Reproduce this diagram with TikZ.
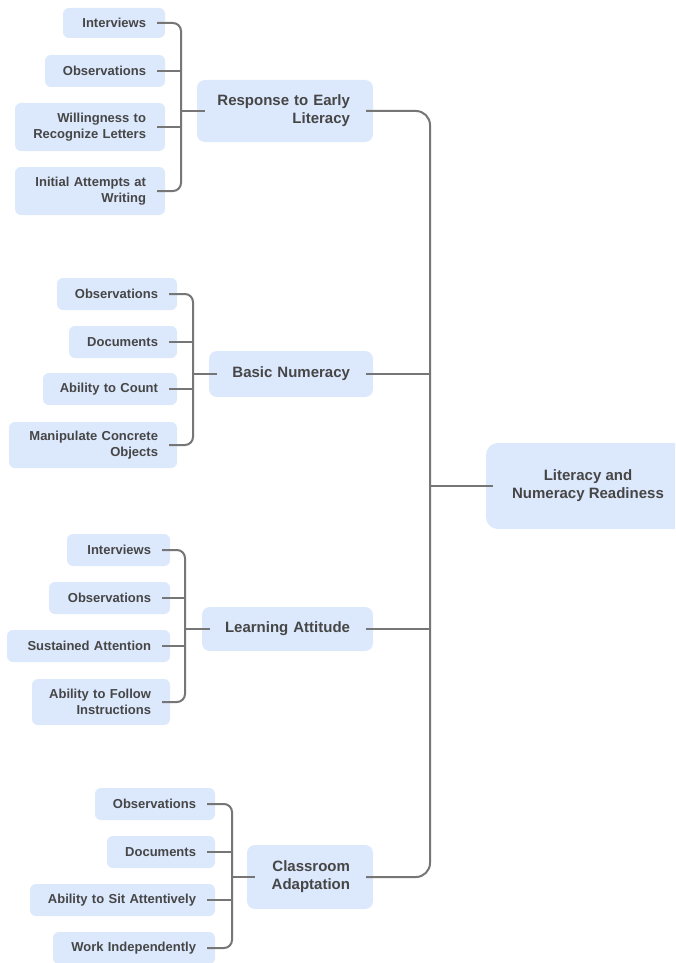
\documentclass[tikz,border=0pt]{standalone}
\usepackage{fontspec}
\setmainfont{Liberation Sans}
\definecolor{boxfill}{HTML}{DCE8FC}
\definecolor{txt}{HTML}{464646}
\definecolor{wire}{HTML}{767676}

\tikzset{
  leaf/.style={fill=boxfill, rounded corners=6, text=txt, align=right,
    font=\bfseries\fontsize{13}{16}\selectfont, inner xsep=19pt, inner ysep=0pt},
  branch/.style={fill=boxfill, rounded corners=8, text=txt, align=right,
    font=\bfseries\fontsize{15}{18}\selectfont, inner xsep=23pt, inner ysep=0pt},
  rootbox/.style={fill=boxfill, rounded corners=12, text=txt, align=center,
    font=\bfseries\fontsize{15}{18}\selectfont, inner xsep=0pt, inner ysep=0pt},
  conn/.style={draw=wire, line width=2pt},
}

% one line of text, flush right within the text width
\newcommand\fr[1]{\makebox[\linewidth][r]{#1}}

% box from (x1,y1) to (x2,y2) with side padding #7
\newcommand\leafbox[7]{%
  \pgfmathsetmacro\lbw{#4-#2-2*#7}%
  \pgfmathsetmacro\lbh{#5-#3}%
  \node[#1, text width=\lbw pt, minimum height=\lbh pt]
    at ({(#2+#4)/2},{(#3+#5)/2}) {#6};}

\begin{document}
\begin{tikzpicture}[x=1pt,y=-1pt]
\useasboundingbox (0,0) rectangle (675,963);
\clip (0,0) rectangle (675,963);
\fill[white] (0,0) rectangle (675,963);

% trunk and bracket columns
\coordinate (tr) at (430,0);
\coordinate (b1) at (181,0);
\coordinate (b2) at (193,0);
\coordinate (b3) at (185,0);
\coordinate (b4) at (232,0);

% root
\node[rootbox, minimum width=204pt, minimum height=86pt] (root) at (588,486)
  {Literacy and\\Numeracy Readiness};

% branches
\leafbox{branch, name=p1}{197}{80}{373}{142}{\fr{Response to Early}\\\fr{Literacy}}{23}
\leafbox{branch, name=p2}{209}{351}{373}{397}{\fr{Basic Numeracy}}{23}
\leafbox{branch, name=p3}{202}{607}{373}{651}{\fr{Learning Attitude}}{23}
\leafbox{branch, name=p4}{247}{845}{373}{909}{\fr{Classroom}\\\fr{Adaptation}}{23}

% group 1
\leafbox{leaf, name=a1}{63}{8}{165}{38}{\fr{Interviews}}{19}
\leafbox{leaf, name=a2}{45}{55}{165}{87}{\fr{Observations}}{19}
\leafbox{leaf, name=a3}{15}{103}{165}{151}{\fr{Willingness to}\\\fr{Recognize Letters}}{19}
\leafbox{leaf, name=a4}{15}{167}{165}{215}{\fr{Initial Attempts at}\\\fr{Writing}}{19}

% group 2
\leafbox{leaf, name=c1}{57}{278}{177}{310}{\fr{Observations}}{19}
\leafbox{leaf, name=c2}{69}{326}{177}{358}{\fr{Documents}}{19}
\leafbox{leaf, name=c3}{43}{373}{177}{405}{\fr{Ability to Count}}{19}
\leafbox{leaf, name=c4}{9}{422}{177}{468}{\fr{Manipulate Concrete}\\\fr{Objects}}{19}

% group 3
\leafbox{leaf, name=d1}{67}{534}{170}{566}{\fr{Interviews}}{19}
\leafbox{leaf, name=d2}{49}{582}{170}{614}{\fr{Observations}}{19}
\leafbox{leaf, name=d3}{7}{630}{170}{662}{\fr{Sustained Attention}}{19}
\leafbox{leaf, name=d4}{32}{679}{170}{725}{\fr{Ability to Follow}\\\fr{Instructions}}{19}

% group 4
\leafbox{leaf, name=e1}{95}{788}{215}{820}{\fr{Observations}}{19}
\leafbox{leaf, name=e2}{107}{836}{215}{868}{\fr{Documents}}{19}
\leafbox{leaf, name=e3}{30}{884}{215}{916}{\fr{Ability to Sit Attentively}}{19}
\leafbox{leaf, name=e4}{53}{932}{215}{964}{\fr{Work Independently}}{19}

% trunk
\draw[conn, rounded corners=14] ([xshift=-7pt]p1.east) -| (p4.east -| tr) -- ([xshift=-7pt]p4.east);
\draw[conn] ([xshift=-7pt]p2.east) -- (p2.east -| tr);
\draw[conn] ([xshift=-7pt]p3.east) -- (p3.east -| tr);
\draw[conn] (root.west -| tr) -- ([xshift=7pt]root.west);

% brackets
\foreach \g/\b/\p in {a/b1/p1, c/b2/p2, d/b3/p3, e/b4/p4}{
  \draw[conn, rounded corners=8] ([xshift=-8pt]\g1.east) -| (\g4.east -| \b) -- ([xshift=-8pt]\g4.east);
  \draw[conn] ([xshift=-8pt]\g2.east) -- (\g2.east -| \b);
  \draw[conn] ([xshift=-8pt]\g3.east) -- (\g3.east -| \b);
  \draw[conn] (\p.west -| \b) -- ([xshift=8pt]\p.west);
}
\end{tikzpicture}
\end{document}
